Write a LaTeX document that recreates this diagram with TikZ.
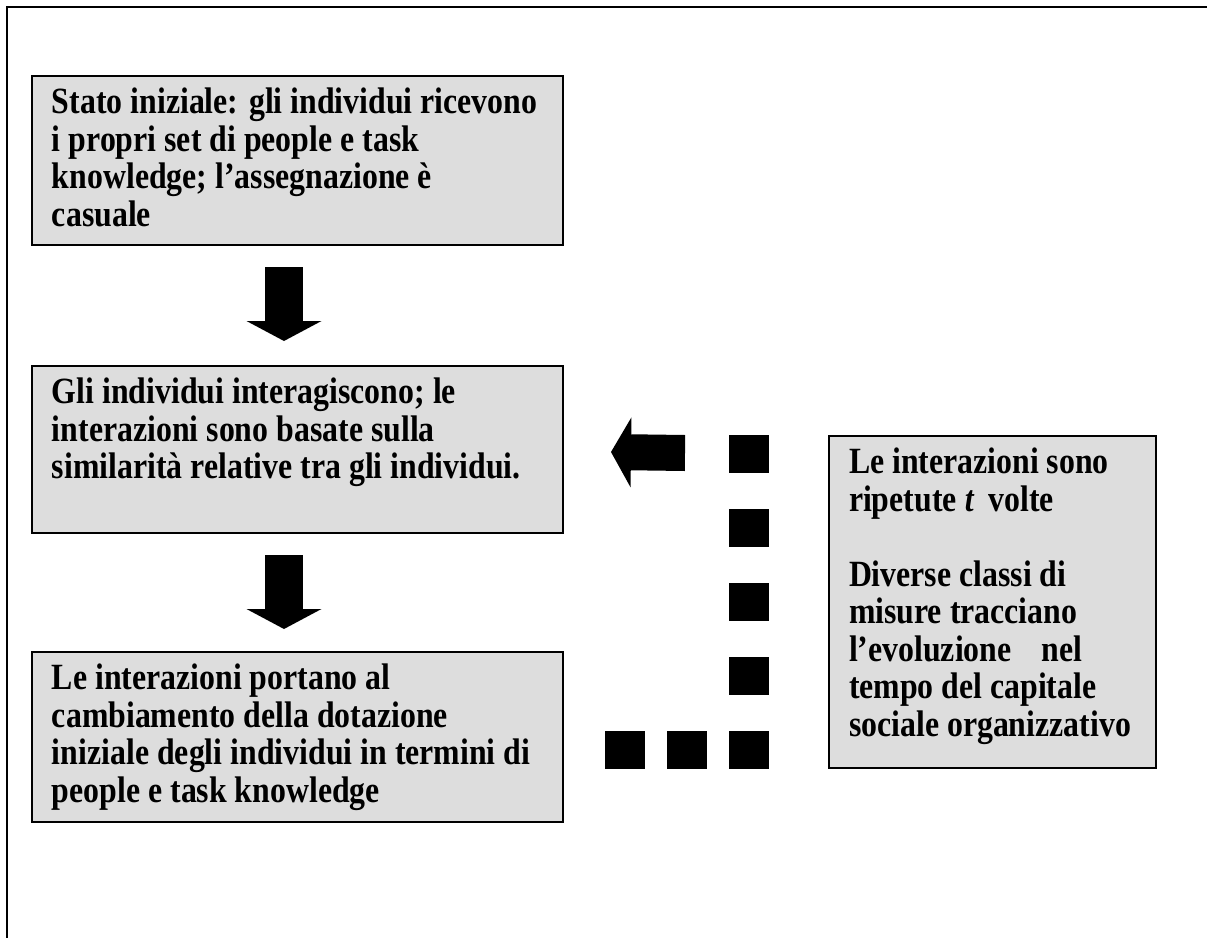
\documentclass[tikz,border=0pt]{standalone}
\usepackage{fontspec}
\setmainfont{Liberation Serif}[FakeStretch=0.86]
\usepackage{xcolor}
\usetikzlibrary{positioning,arrows.meta,calc}

\definecolor{boxgray}{HTML}{DDDDDD}
\newcommand{\boxtext}[3]{\parbox[t][#2][t]{#1}{\raggedright #3}}

\begin{document}
\begin{tikzpicture}[
  x=0.5pt, y=-0.5pt,
  font=\fontsize{18.5pt}{18.75pt}\selectfont\bfseries,
  box/.style={draw, line width=1pt, fill=boxgray, anchor=north west,
              inner xsep=10pt, inner ysep=6pt, outer sep=0pt},
  downarr/.style={line width=19pt, -{Triangle[width=37.5pt, length=10pt, line width=0pt]}},
  leftarr/.style={line width=18pt, -{Triangle[width=35pt, length=10pt, line width=0pt]}}]
\useasboundingbox (0,0) rectangle (1207,938);
% frame (only top and left edges are visible)
\draw[line width=1.2pt] (7,938) -- (7,7) -- (1207,7);
\node[box] (init) at (32,76) {\boxtext{245.5pt}{72.5pt}{Stato iniziale: gli individui ricevono\\
  i propri set di people e task\\ knowledge; l’assegnazione è\\ casuale}};
\node[box, below=60.5pt of init] (inter) {\boxtext{245.5pt}{71.5pt}{Gli individui interagiscono; le\\
  interazioni sono basate sulla\\ similarità relative tra gli individui.}};
\node[box, below=59.5pt of inter] (change) {\boxtext{245.5pt}{73pt}{Le interazioni portano al\\
  cambiamento della dotazione\\ iniziale degli individui in termini di\\ people e task knowledge}};
\node[box] (repeat) at (829,436) {\boxtext{143.5pt}{154pt}{Le interazioni sono\\
  ripetute \textit{t}\, volte\\[18.75pt] Diverse classi di\\ misure tracciano\\
  l’evoluzione\hspace{0.6em} nel\\ tempo del capitale\\ sociale organizzativo}};
\draw[downarr] ($(init.south)+(-13.5,22)$) -- ($(inter.north)+(-13.5,-25)$);
\draw[downarr] ($(inter.south)+(-13.5,22)$) -- ($(change.north)+(-13.5,-23)$);
% feedback loop of squares
\foreach \y in {435,509,583,657,731} \fill (729,\y) rectangle ++(40,38);
\foreach \x in {605,667} \fill (\x,731) rectangle ++(40,38);
\coordinate (loopin) at (685,453);
\draw[leftarr] (loopin) -- ($(inter.east)+(48,2.5)$);
\end{tikzpicture}
\end{document}
